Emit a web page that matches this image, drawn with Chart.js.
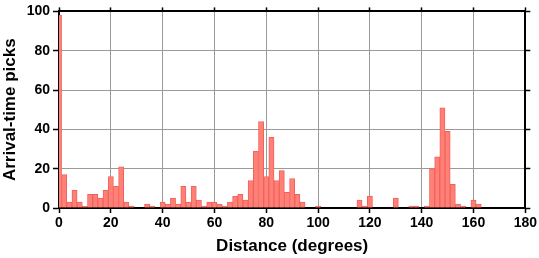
<!DOCTYPE html>
<html>
<head>
<meta charset="utf-8">
<script src="https://cdn.jsdelivr.net/npm/chart.js@4/dist/chart.umd.min.js"></script>
<style>
  html, body { margin: 0; padding: 0; background: #fff; }
  #wrap { width: 539px; height: 258px; }
</style>
</head>
<body>
<div id="wrap"><canvas id="histChart" width="539" height="258"></canvas></div>
<script>
// Histogram of arrival-time picks against epicentral distance, 2-degree bins.

// bin centres (degrees)
const binCentres = [
  0, 2, 4, 6, 8, 10, 12, 14, 16, 18, 20, 22, 24, 26, 28, 30, 32, 34, 36, 38,
  40, 42, 44, 46, 48, 50, 52, 54, 56, 58, 60, 62, 64, 66, 68, 70, 72, 74, 76, 78,
  80, 82, 84, 86, 88, 90, 92, 94, 96, 98, 100, 102, 104, 106, 108, 110, 112, 114, 116, 118,
  120, 122, 124, 126, 128, 130, 132, 134, 136, 138, 140, 142, 144, 146, 148, 150, 152, 154, 156, 158,
  160, 162, 164, 166, 168, 170, 172, 174, 176, 178, 180,
];

// picks in each bin
const pickCounts = [
  98, 17, 3, 9, 3, 1, 7, 7, 5, 9, 16, 11, 21, 3, 1, 0, 0, 2, 1, 0,
  3, 2, 5, 2, 11, 3, 11, 4, 1, 3, 3, 2, 1, 3, 6, 7, 4, 14, 29, 44,
  16, 36, 14, 19, 8, 15, 7, 3, 0, 0, 1, 0, 0, 0, 0, 0, 0, 0, 4, 1,
  6, 0, 0, 0, 0, 5, 0, 0, 1, 1, 0, 1, 20, 26, 51, 39, 12, 2, 1, 0,
  4, 2, 0, 0, 0, 0, 0, 0, 0, 0, 0,
];

const xTicks = [0, 20, 40, 60, 80, 100, 120, 140, 160, 180];
const yTicks = [0, 20, 40, 60, 80, 100];

const FONT = "'Liberation Sans', Arial, Helvetica, sans-serif";
const GRID_GREY = "#9a9a9a";

// empty bins are simply not drawn
const bars = binCentres
  .map((x, i) => ({ x, y: pickCounts[i] }))
  .filter((p) => p.y > 0);

const setTicks = (list) => (scale) => {
  scale.ticks = list.map((v) => ({ value: v }));
};

const tickFont = { family: FONT, size: 14, weight: "bold" };
const titleFont = { family: FONT, size: 17, weight: "bold" };

new Chart(document.getElementById("histChart"), {
  type: "bar",
  data: {
    datasets: [{
      data: bars,
      backgroundColor: "#ff8077",
      borderColor: "#f2625b",
      borderWidth: 1,
      borderSkipped: "start",
      barPercentage: 1,
      categoryPercentage: 1,
      clip: 0,
    }],
  },
  options: {
    responsive: false,
    animation: false,
    devicePixelRatio: 1,
    layout: { padding: 0 },
    plugins: { legend: { display: false }, tooltip: { enabled: false } },
    scales: {
      x: {
        type: "linear",
        position: "bottom",
        min: 0,
        max: 180,
        offset: false,
        afterBuildTicks: setTicks(xTicks),
        afterFit: (s) => { s.height = 50; },
        grid: { offset: false, color: GRID_GREY, lineWidth: 1, tickColor: "#000", tickLength: 5, tickWidth: 1.5 },
        border: { display: true, color: "#000", width: 2 },
        ticks: { color: "#000", font: tickFont, padding: 2, maxRotation: 0, autoSkip: false },
        title: { display: true, text: "Distance (degrees)", color: "#000", font: titleFont, padding: { top: 0, bottom: 1 } },
      },
      x2: {
        type: "linear",
        position: "top",
        min: 0,
        max: 180,
        offset: false,
        afterBuildTicks: setTicks(xTicks),
        afterFit: (s) => { s.height = 5.5; },
        grid: { drawOnChartArea: false, offset: false, tickColor: "#000", tickLength: 4, tickWidth: 1.5 },
        border: { display: true, color: "#000", width: 2 },
        ticks: { display: false },
      },
      y: {
        type: "linear",
        position: "left",
        min: 0,
        max: 100,
        afterBuildTicks: setTicks(yTicks),
        afterFit: (s) => { s.width = 59; },
        grid: { color: GRID_GREY, lineWidth: 1, tickColor: "#000", tickLength: 6, tickWidth: 1.5 },
        border: { display: true, color: "#000", width: 2 },
        ticks: { color: "#000", font: tickFont, padding: 3 },
        title: { display: true, text: "Arrival-time picks", color: "#000", font: titleFont, padding: { top: 0, bottom: 0 } },
      },
      y2: {
        type: "linear",
        position: "right",
        min: 0,
        max: 100,
        afterBuildTicks: setTicks(yTicks),
        afterFit: (s) => { s.width = 12; },
        grid: { drawOnChartArea: false, tickColor: "#000", tickLength: 5, tickWidth: 1.5 },
        border: { display: true, color: "#000", width: 2 },
        ticks: { display: false },
      },
    },
  },
});
</script>
</body>
</html>
